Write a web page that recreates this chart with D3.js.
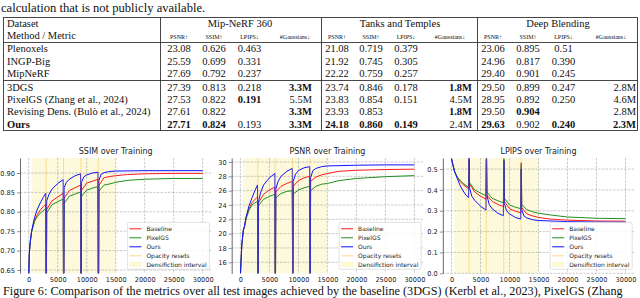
<!DOCTYPE html>
<html>
<head>
<meta charset="utf-8">
<script src="https://cdn.jsdelivr.net/npm/d3@7"></script>
<style>
body { margin: 0; background: #fff; }
.serif { font-family: "Liberation Serif", "Times New Roman", serif; fill: #111; }
.plot text { font-family: "DejaVu Sans", sans-serif; fill: #222; }
</style>
</head>
<body>
<div id="fig"></div>
<script>
// ---------- table data ----------
var methods = ["Plenoxels", "INGP-Big", "MipNeRF", "3DGS", "PixelGS (Zhang et al., 2024)",
	"Revising Dens. (Bulò et al., 2024)", "Ours"];
var datasets = ["Mip-NeRF 360", "Tanks and Temples", "Deep Blending"];
var metrics = ["PSNR↑", "SSIM↑", "LPIPS↓", "#Gaussians↓"];

var mipValues = [
	["23.08", "0.626", "0.463", ""],
	["25.59", "0.699", "0.331", ""],
	["27.69", "0.792", "0.237", ""],
	["27.39", "0.813", "0.218", "3.3M"],
	["27.53", "0.822", "0.191", "5.5M"],
	["27.61", "0.822", "", "3.3M"],
	["27.71", "0.824", "0.193", "3.3M"]
];
var ttValues = [
	["21.08", "0.719", "0.379", ""],
	["21.92", "0.745", "0.305", ""],
	["22.22", "0.759", "0.257", ""],
	["23.74", "0.846", "0.178", "1.8M"],
	["23.83", "0.854", "0.151", "4.5M"],
	["23.93", "0.853", "", "1.8M"],
	["24.18", "0.860", "0.149", "2.4M"]
];
var dbValues = [
	["23.06", "0.895", "0.51", ""],
	["24.96", "0.817", "0.390", ""],
	["29.40", "0.901", "0.245", ""],
	["29.50", "0.899", "0.247", "2.8M"],
	["28.95", "0.892", "0.250", "4.6M"],
	["29.50", "0.904", "", "2.8M"],
	["29.63", "0.902", "0.240", "2.3M"]
];
// indices of bold cells per row
var mipBold = [[], [], [], [3], [2], [3], [0, 1, 3]];
var ttBold = [[], [], [], [3], [], [3], [0, 1, 2]];
var dbBold = [[], [], [], [], [], [1], [0, 2, 3]];

// ---------- curve data (iteration, value) ----------
var xTicks = [0, 5000, 10000, 15000, 20000, 25000, 30000];
var resetIters = [3000, 6000, 9000, 12000];
var densifyRange = [500, 15000];
var legendLabels = ["Baseline", "PixelGS", "Ours", "Opacity resets", "Densifiction interval"];

var ssimTicks = [0.65, 0.70, 0.75, 0.80, 0.85, 0.90];
var ssimBaseline = [[0, 0.63], [100, 0.69], [250, 0.72], [500, 0.75], [1000, 0.778], [1500, 0.793], [2000, 0.805],
	[2500, 0.813], [2950, 0.82], [3000, 0.6], [3050, 0.6], [3100, 0.806], [4000, 0.828], [5000, 0.838], [5950, 0.848],
	[6000, 0.6], [6050, 0.6], [6100, 0.835], [7000, 0.855], [8000, 0.862], [8950, 0.869], [9000, 0.6], [9050, 0.6],
	[9100, 0.855], [10000, 0.874], [11000, 0.879], [11950, 0.884], [12000, 0.6], [12050, 0.6], [12100, 0.868],
	[13000, 0.888], [14000, 0.891], [15000, 0.893], [17000, 0.896], [20000, 0.898], [25000, 0.899], [30000, 0.899]];
var ssimPixel = [[0, 0.63], [100, 0.69], [250, 0.72], [500, 0.748], [1000, 0.775], [1500, 0.788], [2000, 0.797],
	[2500, 0.803], [2950, 0.808], [3000, 0.6], [3050, 0.6], [3100, 0.797], [4000, 0.818], [5000, 0.826], [5950, 0.833],
	[6000, 0.6], [6050, 0.6], [6100, 0.822], [7000, 0.84], [8000, 0.846], [8950, 0.851], [9000, 0.6], [9050, 0.6],
	[9100, 0.84], [10000, 0.856], [11000, 0.861], [11950, 0.865], [12000, 0.6], [12050, 0.6], [12100, 0.853],
	[13000, 0.869], [14000, 0.872], [15000, 0.876], [17000, 0.881], [20000, 0.884], [25000, 0.886], [30000, 0.886]];
var ssimOurs = [[0, 0.63], [100, 0.69], [250, 0.72], [500, 0.75], [1000, 0.785], [1500, 0.807], [2000, 0.823],
	[2500, 0.837], [2950, 0.848], [3000, 0.6], [3050, 0.6], [3100, 0.828], [3500, 0.845], [4000, 0.858], [5000, 0.873],
	[5950, 0.883], [6000, 0.6], [6050, 0.6], [6100, 0.862], [6500, 0.876], [7000, 0.884], [8000, 0.893], [8950, 0.898],
	[9000, 0.6], [9050, 0.6], [9100, 0.876], [9500, 0.89], [10000, 0.895], [11000, 0.9], [11950, 0.902], [12000, 0.6],
	[12050, 0.6], [12100, 0.881], [12500, 0.897], [13000, 0.901], [14000, 0.904], [15000, 0.905], [20000, 0.906],
	[25000, 0.906], [30000, 0.906]];

var psnrTicks = [16, 18, 20, 22, 24, 26, 28, 30];
var psnrBaseline = [[0, 14], [100, 16], [250, 18.5], [500, 20.5], [700, 21], [1000, 22.3], [1500, 23.5],
	[2000, 24.3], [2500, 24.8], [2950, 25.1], [3000, 13], [3050, 13], [3100, 24.3], [4000, 25.5], [5000, 26.1],
	[5950, 26.5], [6000, 13], [6050, 13], [6100, 25.8], [7000, 26.6], [8000, 27.0], [8950, 27.3], [9000, 13],
	[9050, 13], [9100, 26.6], [10000, 27.4], [11000, 27.8], [11950, 28.0], [12000, 13], [12050, 13], [12100, 27.3],
	[13000, 27.9], [14000, 28.2], [15000, 28.4], [17000, 28.7], [20000, 28.85], [25000, 28.95], [30000, 29.0]];
var psnrPixel = [[0, 14], [100, 16], [250, 18.5], [500, 20.4], [700, 20.9], [1000, 22.1], [1500, 23.3],
	[2000, 24.0], [2500, 24.3], [2950, 24.5], [3000, 13], [3050, 13], [3100, 23.9], [4000, 24.8], [5000, 25.2],
	[5950, 25.5], [6000, 13], [6050, 13], [6100, 25.0], [7000, 25.6], [8000, 25.9], [8950, 26.0], [9000, 13],
	[9050, 13], [9100, 25.5], [10000, 26.1], [11000, 26.4], [11950, 26.6], [12000, 13], [12050, 13], [12100, 26.0],
	[13000, 26.6], [14000, 26.9], [15000, 27.0], [17000, 27.4], [20000, 27.7], [25000, 27.95], [30000, 28.1]];
var psnrOurs = [[0, 14], [100, 16], [250, 18.5], [500, 20.5], [700, 21], [1000, 22.4], [1500, 23.9],
	[2000, 25.0], [2500, 26.0], [2950, 26.8], [3000, 13], [3050, 13], [3100, 24.4], [3500, 25.8], [4000, 26.8],
	[5000, 27.8], [5950, 28.4], [6000, 13], [6050, 13], [6100, 26.2], [6500, 27.3], [7000, 28], [8000, 28.7],
	[8950, 29.1], [9000, 13], [9050, 13], [9100, 27.3], [9500, 28.3], [10000, 28.8], [11000, 29.2], [11950, 29.35],
	[12000, 13], [12050, 13], [12100, 27.8], [12500, 28.8], [13000, 29.1], [14000, 29.35], [15000, 29.45],
	[20000, 29.55], [25000, 29.6], [30000, 29.6]];

var lpipsTicks = [0.0, 0.1, 0.2, 0.3, 0.4, 0.5];
var lpipsBaseline = [[0, 0.55], [500, 0.49], [1000, 0.46], [1500, 0.44], [2000, 0.425], [2500, 0.414],
	[2950, 0.405], [3000, 0.54], [3050, 0.54], [3100, 0.43], [4000, 0.39], [5000, 0.37], [5950, 0.355], [6000, 0.545],
	[6050, 0.545], [6100, 0.375], [7000, 0.345], [8000, 0.33], [8950, 0.32], [9000, 0.545], [9050, 0.545],
	[9100, 0.345], [10000, 0.31], [11000, 0.298], [11950, 0.29], [12000, 0.53], [12050, 0.53], [12100, 0.315],
	[13000, 0.285], [14000, 0.275], [15000, 0.268], [17000, 0.26], [20000, 0.255], [25000, 0.251], [30000, 0.25]];
var lpipsPixel = [[0, 0.55], [500, 0.49], [1000, 0.462], [1500, 0.445], [2000, 0.432], [2500, 0.421],
	[2950, 0.413], [3000, 0.54], [3050, 0.54], [3100, 0.435], [4000, 0.4], [5000, 0.385], [5950, 0.372], [6000, 0.55],
	[6050, 0.55], [6100, 0.39], [7000, 0.36], [8000, 0.348], [8950, 0.338], [9000, 0.55], [9050, 0.55],
	[9100, 0.36], [10000, 0.328], [11000, 0.317], [11950, 0.31], [12000, 0.52], [12050, 0.52], [12100, 0.33],
	[13000, 0.305], [14000, 0.295], [15000, 0.288], [17000, 0.28], [20000, 0.27], [25000, 0.264], [30000, 0.262]];
var lpipsOurs = [[0, 0.55], [250, 0.52], [500, 0.49], [1000, 0.455], [1500, 0.42], [2000, 0.395], [2500, 0.375],
	[2950, 0.362], [3000, 0.56], [3050, 0.56], [3100, 0.41], [3500, 0.37], [4000, 0.35], [5000, 0.322], [5950, 0.303],
	[6000, 0.55], [6050, 0.55], [6100, 0.375], [6500, 0.33], [7000, 0.31], [8000, 0.288], [8950, 0.276], [9000, 0.54],
	[9050, 0.54], [9100, 0.335], [9500, 0.3], [10000, 0.285], [11000, 0.268], [11950, 0.26], [12000, 0.5],
	[12050, 0.5], [12100, 0.305], [12500, 0.275], [13000, 0.265], [14000, 0.257], [15000, 0.253], [20000, 0.248],
	[25000, 0.246], [30000, 0.245]];

var seriesColors = ["#ff1a1a", "#1f8f1f", "#1010ff"];

// ---------- svg ----------
var width = 640, height = 298;
var svg = d3.select("#fig").append("svg")
	.attr("width", width)
	.attr("height", height);

// text above table (cut off at the top of the page)
svg.append("text").attr("class", "serif")
	.attr("x", 1).attr("y", 11.5)
	.style("font-size", "12.6px")
	.text("calculation that is not publicly available.");

// ---------- table ----------
var tLeft = 3.5, tRight = 637.5, tTop = 17.5, tBottom = 130.5;
var dividers = [160.5, 321.5, 477.5];
var colCenters = [[179, 214, 249.5], [337, 371, 406], [493, 528, 563.5]];
var gRight = [312, 472, 636];
var gHeader = [295, 450, 611];
var gTitle = [240, 400, 558];
var rowBase = [52, 64.5, 77, 91, 103, 115, 127.5];
var lineStyle = function( sel ) {
	return sel.attr( "stroke", "#333" ).attr( "stroke-width", 0.9 );
};

var tbl = svg.append("g");
tbl.append("rect")
	.attr("x", tLeft).attr("y", tTop)
	.attr("width", tRight - tLeft).attr("height", tBottom - tTop)
	.attr("fill", "none").call(lineStyle);
[42.5, 80.5].forEach(function(yy) {
	tbl.append("line").attr("x1", tLeft).attr("x2", tRight)
		.attr("y1", yy).attr("y2", yy).call(lineStyle);
});
dividers.forEach(function(xx) {
	tbl.append("line").attr("x1", xx).attr("x2", xx)
		.attr("y1", tTop).attr("y2", tBottom).call(lineStyle);
});

tbl.append("text").attr("class", "serif").attr("x", 7).attr("y", 27)
	.style("font-size", "10.5px").text("Dataset");
tbl.append("text").attr("class", "serif").attr("x", 7).attr("y", 39)
	.style("font-size", "10.5px").text("Method / Metric");

tbl.selectAll(".dsTitle").data(datasets).enter().append("text")
	.attr("class", "serif dsTitle")
	.attr("x", function(d, i) { return gTitle[i]; })
	.attr("y", 27)
	.attr("text-anchor", "middle")
	.style("font-size", "10.5px")
	.text(function(d) { return d; });

datasets.forEach(function(ds, gi) {
	tbl.selectAll(".mh" + gi).data(metrics).enter().append("text")
		.attr("class", "serif mh" + gi)
		.attr("x", function(d, i) { return i < 3 ? colCenters[gi][i] : gHeader[gi]; })
		.attr("y", 38.5)
		.attr("text-anchor", "middle")
		.style("font-size", "6px")
		.text(function(d) { return d; });
});

tbl.selectAll(".method").data(methods).enter().append("text")
	.attr("class", "serif method")
	.attr("x", 7)
	.attr("y", function(d, i) { return rowBase[i]; })
	.style("font-size", "10.5px")
	.style("font-weight", function(d, i) { return i === 6 ? "bold" : "normal"; })
	.text(function(d) { return d; });

[[mipValues, mipBold], [ttValues, ttBold], [dbValues, dbBold]].forEach(function(pair, gi) {
	pair[0].forEach(function(row, ri) {
		tbl.selectAll(".v" + gi + "_" + ri).data(row).enter().append("text")
			.attr("class", "serif v" + gi + "_" + ri)
			.attr("x", function(d, ci) { return ci < 3 ? colCenters[gi][ci] : gRight[gi]; })
			.attr("y", rowBase[ri])
			.attr("text-anchor", function(d, ci) { return ci < 3 ? "middle" : "end"; })
			.style("font-size", "10.5px")
			.style("font-weight", function(d, ci) { return pair[1][ri].indexOf(ci) >= 0 ? "bold" : "normal"; })
			.text(function(d) { return d; });
	});
});

// ---------- charts ----------
var plotTop = 158, plotBottom = 273.3, plotW = 191.4;
var charts = [
	{ title: "SSIM over Training", left: 20, yDomain: [0.6415, 0.9387], ticks: ssimTicks, fmt: d3.format(".2f"),
		series: [ssimBaseline, ssimPixel, ssimOurs] },
	{ title: "PSNR over Training", left: 231.7, yDomain: [14.46, 30.56], ticks: psnrTicks, fmt: d3.format("d"),
		series: [psnrBaseline, psnrPixel, psnrOurs] },
	{ title: "LPIPS over Training", left: 442.8, yDomain: [0, 0.553], ticks: lpipsTicks, fmt: d3.format(".1f"),
		series: [lpipsBaseline, lpipsPixel, lpipsOurs] }
];

charts.forEach(function(c, ci) {
	var g = svg.append("g").attr("class", "plot");
	var x = d3.scaleLinear().domain([-1500, 31500]).range([c.left, c.left + plotW]);
	var y = d3.scaleLinear().domain(c.yDomain).range([plotBottom, plotTop]);

	g.append("clipPath").attr("id", "clip" + ci)
		.append("rect")
		.attr("x", c.left).attr("y", plotTop)
		.attr("width", plotW).attr("height", plotBottom - plotTop);

	// densification interval
	g.append("rect")
		.attr("x", x(densifyRange[0])).attr("y", plotTop)
		.attr("width", x(densifyRange[1]) - x(densifyRange[0]))
		.attr("height", plotBottom - plotTop)
		.attr("fill", "#fcf9dc");

	// grid
	g.selectAll(".gx").data(xTicks).enter().append("line")
		.attr("x1", function(d) { return x(d); }).attr("x2", function(d) { return x(d); })
		.attr("y1", plotTop).attr("y2", plotBottom)
		.attr("stroke", "#888").attr("stroke-opacity", 0.55)
		.attr("stroke-width", 0.8).attr("stroke-dasharray", "2.5,1.2");
	g.selectAll(".gy").data(c.ticks).enter().append("line")
		.attr("x1", c.left).attr("x2", c.left + plotW)
		.attr("y1", function(d) { return y(d); }).attr("y2", function(d) { return y(d); })
		.attr("stroke", "#888").attr("stroke-opacity", 0.55)
		.attr("stroke-width", 0.8).attr("stroke-dasharray", "2.5,1.2");

	// curves
	var line = d3.line()
		.x(function(d) { return x(d[0]); })
		.y(function(d) { return y(d[1]); });
	g.append("g").attr("clip-path", "url(#clip" + ci + ")")
		.selectAll("path").data(c.series).enter().append("path")
		.attr("d", line)
		.attr("fill", "none")
		.attr("stroke", function(d, i) { return seriesColors[i]; })
		.attr("stroke-width", 1);

	// opacity resets
	g.selectAll(".reset").data(resetIters).enter().append("line")
		.attr("x1", function(d) { return x(d); }).attr("x2", function(d) { return x(d); })
		.attr("y1", plotTop).attr("y2", plotBottom)
		.attr("stroke", "orange").attr("stroke-opacity", 0.35).attr("stroke-width", 1);

	// axes
	var yAxis = d3.axisLeft(y).tickValues(c.ticks).tickFormat(c.fmt).tickSize(3).tickSizeOuter(0).tickPadding(2);
	var ya = g.append("g").attr("transform", "translate(" + c.left + ",0)").call(yAxis);
	ya.select(".domain").attr("stroke", "#444").attr("stroke-width", 0.8);
	ya.selectAll(".tick line").attr("stroke", "#444").attr("stroke-width", 0.6);
	ya.selectAll("text").style("font-size", "6.6px").attr("fill", "#222");

	var xAxis = d3.axisBottom(x).tickValues(xTicks).tickFormat(d3.format("d")).tickSize(0).tickPadding(4);
	var xa = g.append("g").attr("transform", "translate(0," + plotBottom + ")").call(xAxis);
	xa.select(".domain").remove();
	xa.selectAll("text").style("font-size", "6.6px").attr("fill", "#222");

	g.append("text")
		.attr("x", c.left + plotW / 2).attr("y", 154)
		.attr("text-anchor", "middle")
		.style("font-size", "8px")
		.text(c.title);

	// legend
	var lw = 82, lh = 47;
	var lx = c.left + plotW - 2 - lw, ly = plotBottom - 4 - lh;
	var lg = g.append("g").attr("transform", "translate(" + lx + "," + ly + ")");
	lg.append("rect").attr("width", lw).attr("height", lh).attr("rx", 1.5)
		.attr("fill", "#fff").attr("fill-opacity", 0.85)
		.attr("stroke", "#ccc").attr("stroke-width", 0.6);
	legendLabels.forEach(function(lab, i) {
		var yy = 6.5 + i * 9;
		if (i < 3) {
			lg.append("line").attr("x1", 2).attr("x2", 14).attr("y1", yy).attr("y2", yy)
				.attr("stroke", seriesColors[i]).attr("stroke-width", 1);
		} else if (i === 3) {
			lg.append("line").attr("x1", 2).attr("x2", 14).attr("y1", yy).attr("y2", yy)
				.attr("stroke", "orange").attr("stroke-opacity", 0.45).attr("stroke-width", 1);
		} else {
			lg.append("rect").attr("x", 2).attr("y", yy - 3).attr("width", 12).attr("height", 5)
				.attr("fill", "#fcf8d2");
		}
		lg.append("text").attr("x", 19).attr("y", yy + 2.2)
			.style("font-size", "6px").text(lab);
	});
});

// caption (the reference shows it cut at the right edge)
svg.append("text").attr("class", "serif")
	.attr("x", 3).attr("y", 294.5)
	.style("font-size", "12.2px")
	.text("Figure 6: Comparison of the metrics over all test images achieved by the baseline (3DGS) (Kerbl et al., 2023), PixelGS (Zhang");
</script>
</body>
</html>
